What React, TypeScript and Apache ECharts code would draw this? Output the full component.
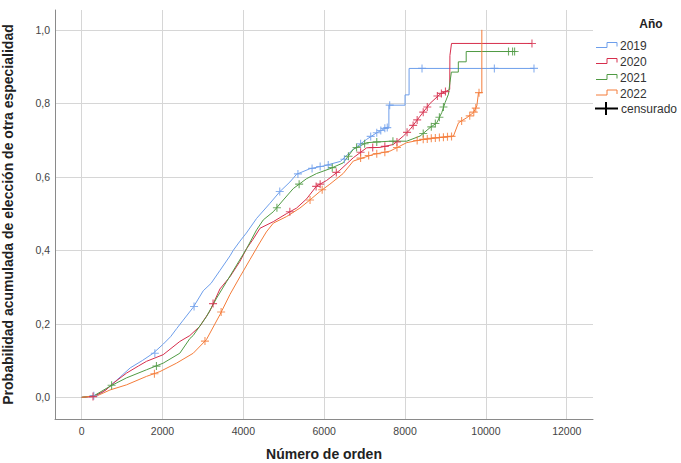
import React, { useEffect, useRef } from "react";
import * as echarts from "echarts";

const years = ["2019", "2020", "2021", "2022"];
const colors = ["#6d9eeb", "#d62e4c", "#4f9a43", "#f47c3a"];

const xTicks = [0, 2000, 4000, 6000, 8000, 10000, 12000];
const yTicks = [0, 0.2, 0.4, 0.6, 0.8, 1.0];

const curve2019: [number, number][] = [
  [0, 0], [290, 0.004], [500, 0.012], [700, 0.03], [950, 0.055], [1200, 0.08], [1500, 0.1],
  [1770, 0.12], [2020, 0.145], [2200, 0.165], [2350, 0.187], [2512, 0.21], [2760, 0.245],
  [3008, 0.29], [3200, 0.31], [3420, 0.345], [3670, 0.385], [3750, 0.4], [3916, 0.425],
  [4074, 0.447], [4329, 0.487], [4658, 0.528], [4905, 0.56], [5152, 0.586], [5317, 0.607],
  [5646, 0.622], [6000, 0.63], [6400, 0.642], [6720, 0.675], [7050, 0.702], [7300, 0.72],
  [7546, 0.734], [7600, 0.736], [7600, 0.795], [8000, 0.795], [8000, 0.823], [8100, 0.823],
  [8100, 0.895], [11200, 0.895],
];
const curve2020: [number, number][] = [
  [0, 0], [300, 0.002], [600, 0.02], [800, 0.04], [1111, 0.066], [1400, 0.085], [1605, 0.098],
  [2016, 0.116], [2428, 0.152], [2675, 0.168], [2922, 0.193], [3173, 0.235], [3421, 0.295],
  [3669, 0.328], [3916, 0.37], [4082, 0.405], [4239, 0.43], [4411, 0.46], [4741, 0.478],
  [5070, 0.5], [5317, 0.515], [5564, 0.54], [5811, 0.575], [6058, 0.59], [6387, 0.618],
  [6720, 0.652], [7050, 0.679], [7380, 0.68], [7711, 0.688], [7959, 0.711], [8124, 0.729],
  [8372, 0.765], [8620, 0.8], [8867, 0.825], [9074, 0.836], [9105, 0.838], [9110, 0.93],
  [9150, 0.963], [11140, 0.963],
];
const curve2021: [number, number][] = [
  [0, 0], [300, 0.004], [700, 0.03], [1111, 0.053], [1605, 0.075], [2016, 0.093], [2428, 0.12],
  [2677, 0.16], [2757, 0.168], [3090, 0.22], [3338, 0.27], [3586, 0.315], [3834, 0.36],
  [4082, 0.405], [4329, 0.456], [4494, 0.483], [4741, 0.505], [4988, 0.537], [5234, 0.568],
  [5564, 0.595], [5811, 0.609], [6140, 0.622], [6469, 0.638], [6720, 0.675], [7050, 0.693],
  [7628, 0.697], [8041, 0.697], [8372, 0.711], [8620, 0.734], [8785, 0.747], [8909, 0.775],
  [8991, 0.802], [9074, 0.825], [9110, 0.856], [9146, 0.885], [9318, 0.885], [9318, 0.913],
  [9513, 0.913], [9513, 0.941], [10710, 0.941],
];
const curve2022: [number, number][] = [
  [0, 0], [400, 0.005], [700, 0.02], [1111, 0.034], [1605, 0.057], [1935, 0.07], [2346, 0.093],
  [2760, 0.12], [3086, 0.157], [3421, 0.225], [3669, 0.28], [3916, 0.328], [4164, 0.375],
  [4403, 0.42], [4568, 0.45], [4741, 0.474], [5070, 0.492], [5399, 0.515], [5646, 0.537],
  [5893, 0.56], [6140, 0.58], [6469, 0.609], [6720, 0.643], [7215, 0.661], [7628, 0.67],
  [8041, 0.693], [8454, 0.702], [8785, 0.706], [9198, 0.711], [9322, 0.747], [9528, 0.761],
  [9693, 0.775], [9776, 0.793], [9817, 0.829], [9900, 0.829], [9900, 1.0],
];

const censor2019: [number, number][] = [
  [300, 0.004], [1810, 0.12], [2780, 0.247], [4900, 0.56], [5350, 0.608], [5700, 0.623],
  [5900, 0.628], [6100, 0.632], [6500, 0.648], [6900, 0.69], [7150, 0.71], [7300, 0.72],
  [7400, 0.726], [7500, 0.732], [7560, 0.734], [7620, 0.795], [8420, 0.895], [10210, 0.895],
  [11190, 0.895],
];
const censor2020: [number, number][] = [
  [280, 0.002], [3250, 0.255], [5150, 0.505], [5800, 0.574], [5900, 0.58], [6300, 0.612],
  [6900, 0.667], [7200, 0.68], [7500, 0.683], [7800, 0.695], [8050, 0.721], [8200, 0.74],
  [8300, 0.755], [8450, 0.776], [8550, 0.79], [8800, 0.82], [8900, 0.827], [9000, 0.832],
  [11140, 0.963],
];
const censor2021: [number, number][] = [
  [740, 0.033], [1850, 0.085], [4830, 0.516], [5380, 0.58], [6200, 0.625], [6600, 0.656],
  [6800, 0.68], [7000, 0.69], [7300, 0.695], [7700, 0.697], [8450, 0.718], [8650, 0.736],
  [8750, 0.745], [8850, 0.762], [8950, 0.79], [10560, 0.941], [10660, 0.941], [10710, 0.941],
];
const censor2022: [number, number][] = [
  [1800, 0.064], [3050, 0.153], [3450, 0.232], [5650, 0.537], [5950, 0.565], [6900, 0.651],
  [7100, 0.658], [7300, 0.663], [7500, 0.667], [7800, 0.68], [8300, 0.699], [8450, 0.702],
  [8550, 0.703], [8650, 0.705], [8750, 0.706], [8850, 0.707], [8950, 0.708], [9050, 0.709],
  [9150, 0.71], [9400, 0.752], [9600, 0.766], [9700, 0.776], [9750, 0.787], [9830, 0.829],
];

const curves = [curve2019, curve2020, curve2021, curve2022];
const censors = [censor2019, censor2020, censor2021, censor2022];

const FONT = "'Liberation Sans', Arial, sans-serif";
const PLUS = "path://M4.3,0H5.7V4.3H10V5.7H5.7V10H4.3V5.7H0V4.3H4.3Z";

export default function App() {
  const ref = useRef<HTMLDivElement>(null);
  useEffect(() => {
    if (!ref.current) return;
    const chart = echarts.init(ref.current, null, { renderer: "svg" });

    const series: any[] = [];
    years.forEach((y, i) => {
      series.push({
        name: y,
        type: "line",
        data: curves[i],
        showSymbol: false,
        symbol: "none",
        lineStyle: { color: colors[i], width: 1 },
        itemStyle: { color: colors[i] },
        z: 3,
      });
      series.push({
        name: y + " censurado",
        type: "scatter",
        data: censors[i],
        symbol: PLUS,
        symbolSize: 8,
        itemStyle: { color: colors[i] },
        z: 4,
      });
    });

    const legendRows = [46, 62, 78, 93.5];
    const graphic: any[] = [
      {
        type: "text",
        x: 651,
        y: 24,
        style: {
          text: "Año",
          font: `bold 12px ${FONT}`,
          fill: "#222",
          align: "center",
          verticalAlign: "middle",
          textAlign: "center",
          textVerticalAlign: "middle",
        },
      },
    ];
    years.forEach((y, i) => {
      const cy = legendRows[i];
      graphic.push({
        type: "polyline",
        shape: {
          points: [
            [596, cy + 1.5],
            [607, cy + 1.5],
            [607, cy - 3.5],
            [617, cy - 3.5],
            [617, cy + 0.5],
          ],
        },
        style: { stroke: colors[i], lineWidth: 1, fill: "none" },
      });
      graphic.push({
        type: "text",
        x: 620,
        y: cy,
        style: {
          text: y,
          font: `12px ${FONT}`,
          fill: "#333",
          align: "left",
          verticalAlign: "middle",
          textAlign: "left",
          textVerticalAlign: "middle",
        },
      });
    });
    graphic.push(
      { type: "line", shape: { x1: 595, y1: 108.5, x2: 618, y2: 108.5 }, style: { stroke: "#000", lineWidth: 2 } },
      { type: "line", shape: { x1: 606, y1: 102, x2: 606, y2: 115 }, style: { stroke: "#000", lineWidth: 2 } },
      {
        type: "text",
        x: 621,
        y: 108.5,
        style: {
          text: "censurado",
          font: `12px ${FONT}`,
          fill: "#333",
          align: "left",
          verticalAlign: "middle",
          textAlign: "left",
          textVerticalAlign: "middle",
        },
      }
    );

    chart.setOption({
      animation: false,
      backgroundColor: "#ffffff",
      textStyle: { fontFamily: FONT },
      grid: {
        left: 55,
        right: 88,
        top: 10,
        bottom: 44,
        containLabel: false,
        outerBoundsMode: "none",
      },
      xAxis: {
        type: "value",
        min: -660,
        max: 12650,
        name: "Número de orden",
        nameLocation: "middle",
        nameGap: 28,
        nameTextStyle: { fontWeight: "bold", fontSize: 14, color: "#222", fontFamily: FONT },
        axisLine: { show: true, onZero: false, lineStyle: { color: "#8a8a8a", width: 1 } },
        axisTick: { show: false, customValues: xTicks },
        axisLabel: {
          customValues: xTicks,
          color: "#444",
          fontSize: 10.5,
          margin: 6,
          fontFamily: FONT,
          formatter: (v: number) => String(Math.round(v)),
        },
        splitLine: { show: true, lineStyle: { color: "#d6d6d6", width: 1 } },
      },
      yAxis: {
        type: "value",
        min: -0.059,
        max: 1.054,
        name: "Probabilidad acumulada de elección de otra especialidad",
        nameLocation: "middle",
        nameGap: 40,
        nameTextStyle: { fontWeight: "bold", fontSize: 14, color: "#222", fontFamily: FONT },
        axisLine: { show: true, onZero: false, lineStyle: { color: "#8a8a8a", width: 1 } },
        axisTick: { show: false, customValues: yTicks },
        axisLabel: {
          customValues: yTicks,
          color: "#444",
          fontSize: 10.5,
          margin: 5,
          fontFamily: FONT,
          formatter: (v: number) => v.toFixed(1).replace(".", ","),
        },
        splitLine: { show: true, lineStyle: { color: "#d6d6d6", width: 1 } },
      },
      series,
      graphic,
    });
    return () => chart.dispose();
  }, []);
  return (
    <div
      ref={ref}
      style={{ position: "absolute", left: 0, top: 0, width: 681, height: 463 }}
    />
  );
}
